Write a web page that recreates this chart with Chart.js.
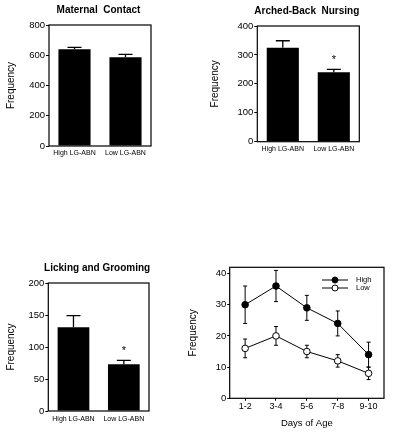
<!DOCTYPE html>
<html>
<head>
<meta charset="utf-8">
<script src="https://cdn.jsdelivr.net/npm/chart.js@4.4.1/dist/chart.umd.min.js"></script>
<style>
  body { margin: 0; width: 400px; height: 435px; background: #fff; overflow: hidden; position: relative; }
  canvas { position: absolute; }
</style>
</head>
<body>
<canvas id="contact" width="200" height="165" style="left:0;top:0"></canvas>
<canvas id="abn" width="200" height="165" style="left:200px;top:0"></canvas>
<canvas id="lg" width="200" height="195" style="left:0;top:240px"></canvas>
<canvas id="days" width="220" height="195" style="left:180px;top:240px"></canvas>
<script>
// group means and SEM (one-sided bars in the figure)
const groups = ['High LG-ABN', 'Low LG-ABN'];
const contactMean = [640, 586];
const contactSem = [12, 20];
const contactMarks = ['', ''];
const abnMean = [325, 240];
const abnSem = [24, 10];
const abnMarks = ['', '*'];
const lgMean = [131, 73];
const lgSem = [18, 6];
const lgMarks = ['', '*'];

// licking/grooming by days of age
const days = ['1-2', '3-4', '5-6', '7-8', '9-10'];
const highLG = [30, 36, 29, 24, 14];
const highSem = [6, 5, 4, 4, 4];
const lowLG = [16, 20, 15, 12, 8];
const lowSem = [3, 3, 2, 2, 2];
const daysTicks = [0, 10, 20, 30, 40];

const FONT = "'Liberation Sans', Arial, Helvetica, sans-serif";
Chart.defaults.font.family = FONT;
Chart.defaults.color = '#000';

// frame, titles, error bars, significance marks and the inset legend
const decor = {
    id: 'decor',
    beforeDatasetsDraw(chart, args, opts) {
        if (!opts.lineErrors) return;
        const ctx = chart.ctx, y = chart.scales.y;
        ctx.save();
        ctx.strokeStyle = '#000';
        ctx.lineWidth = 1;
        chart.data.datasets.forEach((ds, di) => {
            const sem = opts.lineErrors[di];
            chart.getDatasetMeta(di).data.forEach((pt, i) => {
                const top = y.getPixelForValue(ds.data[i] + sem[i]);
                const bot = y.getPixelForValue(ds.data[i] - sem[i]);
                ctx.beginPath();
                ctx.moveTo(pt.x, top); ctx.lineTo(pt.x, bot);
                ctx.moveTo(pt.x - 2, top); ctx.lineTo(pt.x + 2, top);
                ctx.moveTo(pt.x - 2, bot); ctx.lineTo(pt.x + 2, bot);
                ctx.stroke();
            });
        });
        ctx.restore();
    },
    afterDatasetsDraw(chart, args, opts) {
        const ctx = chart.ctx, a = chart.chartArea, y = chart.scales.y;
        ctx.save();
        ctx.strokeStyle = '#000';
        ctx.fillStyle = '#000';
        if (opts.barErrors) {
            const ds = chart.data.datasets[0];
            ctx.lineWidth = 1.3;
            chart.getDatasetMeta(0).data.forEach((bar, i) => {
                const top = y.getPixelForValue(ds.data[i] + opts.barErrors[i]);
                ctx.beginPath();
                ctx.moveTo(bar.x, bar.y); ctx.lineTo(bar.x, top);
                ctx.moveTo(bar.x - 7, top); ctx.lineTo(bar.x + 7, top);
                ctx.stroke();
                if (opts.marks && opts.marks[i]) {
                    ctx.font = '11px ' + FONT;
                    ctx.textAlign = 'center';
                    ctx.textBaseline = 'middle';
                    ctx.fillText(opts.marks[i], bar.x, top - 9);
                }
            });
        }
        ctx.lineWidth = 1.2;
        ctx.strokeRect(a.left, a.top, a.right - a.left, a.bottom - a.top);
        if (opts.title) {
            ctx.font = 'bold 10px ' + FONT;
            ctx.textAlign = 'center';
            ctx.textBaseline = 'middle';
            ctx.fillText(opts.title, (a.left + a.right) / 2 - 1.5, a.top - 15);
        }
        if (opts.legend) {
            ctx.lineWidth = 1;
            chart.data.datasets.forEach((ds, i) => {
                const ly = a.top + 12.7 + i * 8;
                ctx.beginPath();
                ctx.moveTo(a.right - 62, ly); ctx.lineTo(a.right - 36, ly);
                ctx.stroke();
                ctx.beginPath();
                ctx.arc(a.right - 49, ly, 3, 0, Math.PI * 2);
                ctx.fillStyle = ds.pointBackgroundColor;
                ctx.fill();
                ctx.stroke();
                ctx.fillStyle = '#000';
                ctx.font = '7.5px ' + FONT;
                ctx.textAlign = 'left';
                ctx.textBaseline = 'middle';
                ctx.fillText(ds.label, a.right - 28, ly);
            });
        }
        ctx.restore();
    }
};
Chart.register(decor);

function barPanel(id, title, means, sem, marks, yMax, step, box) {
    new Chart(document.getElementById(id), {
        type: 'bar',
        data: {
            labels: groups,
            datasets: [{
                data: means,
                backgroundColor: '#000',
                borderWidth: 0,
                barPercentage: 1,
                categoryPercentage: 0.63
            }]
        },
        options: {
            responsive: false,
            animation: false,
            devicePixelRatio: 1,
            layout: { padding: { top: box.top, right: box.right, left: 0, bottom: 0 } },
            plugins: {
                legend: { display: false },
                tooltip: { enabled: false },
                decor: { title: title, barErrors: sem, marks: marks }
            },
            scales: {
                x: {
                    grid: { display: false, drawTicks: false },
                    border: { display: false },
                    ticks: { font: { size: 7 }, padding: box.labelPad, maxRotation: 0, minRotation: 0, autoSkip: false },
                    afterFit: s => { s.height = box.xh; }
                },
                y: {
                    min: 0,
                    max: yMax,
                    grid: { drawOnChartArea: false, tickLength: 3, color: '#000', lineWidth: 1 },
                    border: { display: false },
                    ticks: { stepSize: step, font: { size: 9.5 }, padding: 1 },
                    title: { display: true, text: 'Frequency', font: { size: 10 }, padding: { top: box.titlePad, bottom: 0 } },
                    afterFit: s => { s.width = box.yw; }
                }
            }
        }
    });
}

barPanel('contact', 'Maternal  Contact', contactMean, contactSem, contactMarks, 800, 200,
    { top: 25, right: 49, yw: 49, xh: 19, labelPad: 2.5, titlePad: 5.5 });
barPanel('abn', 'Arched-Back  Nursing', abnMean, abnSem, abnMarks, 400, 100,
    { top: 26, right: 40.7, yw: 57.3, xh: 23.3, labelPad: 3.5, titlePad: 9.5 });
barPanel('lg', 'Licking and Grooming', lgMean, lgSem, lgMarks, 200, 50,
    { top: 43, right: 51, yw: 48.3, xh: 24, labelPad: 3.5, titlePad: 5.5 });

new Chart(document.getElementById('days'), {
    type: 'line',
    data: {
        labels: days,
        datasets: [{
            label: 'High',
            data: highLG,
            borderColor: '#000',
            borderWidth: 1,
            pointBackgroundColor: '#000',
            pointBorderColor: '#000',
            pointBorderWidth: 1,
            pointRadius: 3.3
        }, {
            label: 'Low',
            data: lowLG,
            borderColor: '#000',
            borderWidth: 1,
            pointBackgroundColor: '#fff',
            pointBorderColor: '#000',
            pointBorderWidth: 1,
            pointRadius: 3.3
        }]
    },
    options: {
        responsive: false,
        animation: false,
        devicePixelRatio: 1,
        layout: { padding: { top: 27.3, right: 16, left: 0, bottom: 0 } },
        plugins: {
            legend: { display: false },
            tooltip: { enabled: false },
            decor: { lineErrors: [highSem, lowSem], legend: true }
        },
        scales: {
            x: {
                offset: true,
                grid: { drawOnChartArea: false, tickLength: 2.5, color: '#000' },
                border: { display: false },
                ticks: { font: { size: 9 }, padding: 0.5, maxRotation: 0, minRotation: 0 },
                title: { display: true, text: 'Days of Age', font: { size: 9.5 }, padding: { top: 0, bottom: 6 } },
                afterFit: s => { s.height = 36.7; }
            },
            y: {
                min: 0,
                max: 42,
                grid: { drawOnChartArea: false, tickLength: 2.5, color: '#000' },
                border: { display: false },
                ticks: { font: { size: 9.5 }, padding: 1 },
                afterBuildTicks: s => { s.ticks = daysTicks.map(v => ({ value: v })); },
                title: { display: true, text: 'Frequency', font: { size: 10 }, padding: { top: 7.5, bottom: 0 } },
                afterFit: s => { s.width = 49.7; }
            }
        }
    }
});
</script>
</body>
</html>
